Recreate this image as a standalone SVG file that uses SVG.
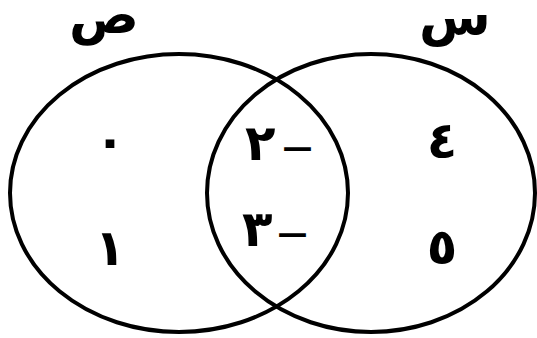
<svg xmlns="http://www.w3.org/2000/svg" width="537" height="338" viewBox="0 0 537 338">
<style>
.c{fill:none;stroke:#000;stroke-width:4}
.t{font-family:"DejaVu Sans","Noto Sans",sans-serif;fill:#000;text-anchor:middle}
.d{font-size:50px;font-weight:bold}
.s{text-anchor:start}
.m{font-size:30px;font-weight:bold}
.l{font-size:52px;font-weight:bold}
</style>
<rect width="537" height="338" fill="#fff"/>
<g id="set-sad">
<ellipse class="c" cx="179" cy="193" rx="169" ry="139"/>
<text class="t l" x="104" y="33" direction="rtl">ص</text>
</g>
<g id="set-sin">
<ellipse class="c" cx="371" cy="193" rx="164" ry="139"/>
<text class="t l" x="455" y="35" direction="rtl">س</text>
</g>
<g id="elements">
<text class="t d" x="110" y="158">٠</text>
<text class="t d" x="110" y="265">١</text>
<text class="t d s" x="245" y="160" direction="ltr" unicode-bidi="bidi-override">٢<tspan class="m" dx="7" dy="-3">—</tspan></text>
<text class="t d s" x="242" y="246" direction="ltr" unicode-bidi="bidi-override">٣<tspan class="m" dx="5" dy="-3">—</tspan></text>
<text class="t d" x="442" y="158">٤</text>
<text class="t d" x="442" y="264">٥</text>
</g>
</svg>
